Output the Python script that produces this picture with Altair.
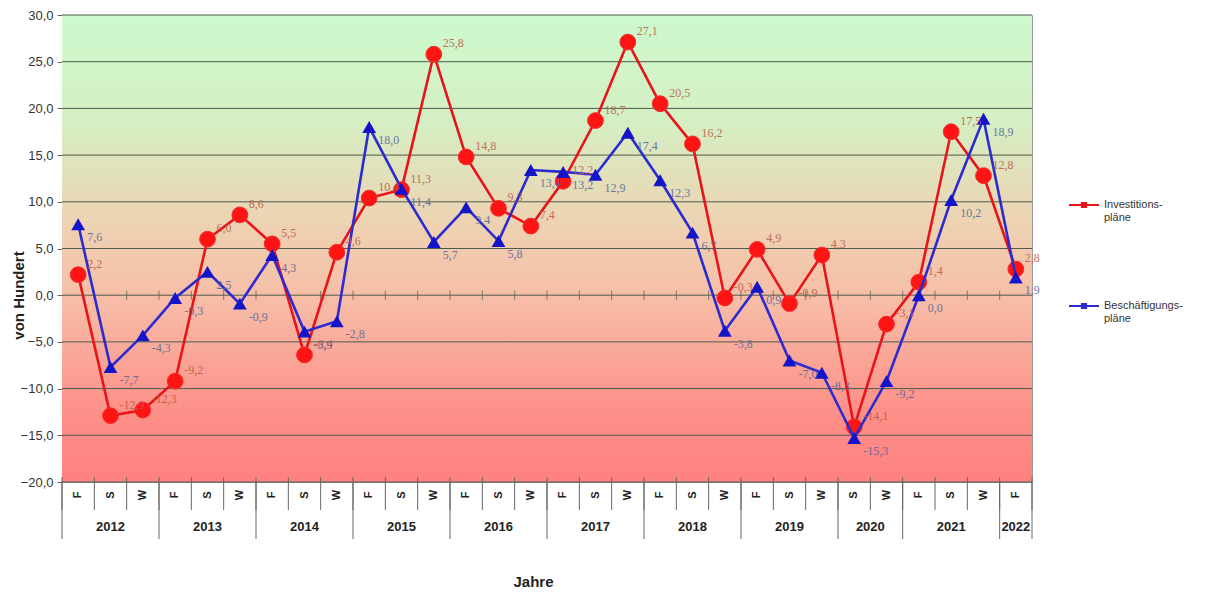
import altair as alt
import pandas as pd

# ---------------- data ----------------
years = (["2012"] * 3 + ["2013"] * 3 + ["2014"] * 3 + ["2015"] * 3 + ["2016"] * 3 +
         ["2017"] * 3 + ["2018"] * 3 + ["2019"] * 3 + ["2020"] * 2 + ["2021"] * 3 + ["2022"])
seasons = ["F", "S", "W"] * 8 + ["S", "W"] + ["F", "S", "W"] + ["F"]
invest = [2.2, -12.9, -12.3, -9.2, 6.0, 8.6, 5.5, -6.4, 4.6, 10.4, 11.3, 25.8,
          14.8, 9.3, 7.4, 12.2, 18.7, 27.1, 20.5, 16.2, -0.3, 4.9, -0.9, 4.3,
          -14.1, -3.1, 1.4, 17.5, 12.8, 2.8]
besch = [7.6, -7.7, -4.3, -0.3, 2.5, -0.9, 4.3, -3.9, -2.8, 18.0, 11.4, 5.7,
         9.4, 5.8, 13.4, 13.2, 12.9, 17.4, 12.3, 6.7, -3.8, 0.9, -7.0, -8.3,
         -15.3, -9.2, 0.0, 10.2, 18.9, 1.9]
series_names = ["Investitionspläne", "Beschäftigungspläne"]
yticks = [-20, -15, -10, -5, 0, 5, 10, 15, 20, 25, 30]

W, H = 970, 467
n = len(seasons)
idx = list(range(n))

df = pd.DataFrame({
    "i": idx * 2,
    "v": invest + besch,
    "series": [series_names[0]] * n + [series_names[1]] * n,
})
df["lab"] = df["v"].map(lambda v: f"{v:.1f}".replace(".", ","))

cats = pd.DataFrame({"i": idx, "season": seasons, "year": years})
year_centers = cats.groupby("year", as_index=False)["i"].mean()
bounds = pd.DataFrame({"b": [k - 0.5 for k in range(n + 1)]})
inner_bounds = pd.DataFrame({"b": [k - 0.5 for k in range(1, n)]})
yb = [-0.5] + [k - 0.5 for k in range(1, n) if years[k] != years[k - 1]] + [n - 0.5]
year_bounds = pd.DataFrame({"b": yb})
grid = pd.DataFrame({"t": yticks})

xscale = alt.Scale(domain=[-0.5, n - 0.5], nice=False, zero=False)
yscale = alt.Scale(domain=[-20, 30], nice=False, zero=False)

xaxis = alt.Axis(labels=False, ticks=False, domain=False, grid=False,
                 title="Jahre", titleFont="Liberation Sans", titleFontSize=15,
                 titleFontWeight="bold", titleColor="#222",
                 titleX=471, titleY=99, titleAnchor="middle", titleAlign="center",
                 titleBaseline="middle")
yaxis = alt.Axis(values=yticks, grid=False,
                 labelExpr="replace(format(datum.value, '.1f'), '.', ',')",
                 labelFont="Liberation Sans", labelFontSize=13, labelColor="#333",
                 tickSize=5, tickColor="#666", domainColor="#666", labelPadding=4,
                 title="von Hundert", titleFont="Liberation Sans", titleFontSize=15,
                 titleFontWeight="bold", titleColor="#222", titleAngle=270,
                 titleX=-44, titleY=280, titleAlign="center", titleBaseline="middle")

X = lambda f: alt.X(f, scale=xscale, axis=xaxis)
Y = lambda f: alt.Y(f, scale=yscale, axis=yaxis)

# ---------------- layers ----------------
bg = alt.Chart(pd.DataFrame({"a": [0]})).mark_rect(
    color=alt.LinearGradient(
        gradient="linear", x1=0, x2=0, y1=0, y2=1,
        stops=[
            alt.GradientStop(offset=0.0, color="#cdf9cd"),
            alt.GradientStop(offset=0.22, color="#d4f0c4"),
            alt.GradientStop(offset=0.45, color="#eed2b2"),
            alt.GradientStop(offset=0.62, color="#f7bba6"),
            alt.GradientStop(offset=0.85, color="#fd9088"),
            alt.GradientStop(offset=1.0, color="#ff8080"),
        ],
    )
).encode(x=alt.value(0), x2=alt.value(W), y=alt.value(0), y2=alt.value(H))

gridlines = alt.Chart(grid).mark_rule(color="#4d5a4a", strokeWidth=1).encode(
    y=Y("t:Q"), x=alt.value(0), x2=alt.value(W))

zero_ticks = alt.Chart(inner_bounds).mark_tick(
    orient="vertical", size=9, thickness=1, color="#4d5a4a").encode(
    x=X("b:Q"), y=alt.datum(0, scale=yscale))

color_scale = alt.Scale(domain=series_names, range=["#e8141a", "#2b2bd0"])
legend = alt.Legend(
    orient="none", legendX=1006, legendY=174, title=None,
    symbolType="M-1,0H1M-0.14,-0.14H0.14V0.14H-0.14Z",
    symbolSize=900, symbolStrokeWidth=2,
    labelFont="Liberation Sans", labelFontSize=11, labelColor="#333",
    labelBaseline="middle", rowPadding=67, labelLimit=200,
    labelExpr="datum.label == 'Investitionspläne' ? ['Investitions-', 'pläne'] : ['Beschäftigungs-', 'pläne']",
)

def line_layer(name):
    return alt.Chart(df).transform_filter(alt.datum.series == name).mark_line(
        strokeWidth=2.6).encode(
        x=X("i:Q"), y=Y("v:Q"),
        color=alt.Color("series:N", scale=color_scale, legend=legend))

red_line = line_layer(series_names[0])
blue_line = line_layer(series_names[1])

red_pts = alt.Chart(df).transform_filter(alt.datum.series == series_names[0]).mark_point(
    shape="circle", filled=True, size=250, color="#ff1414", opacity=1,
    stroke="#f03030", strokeWidth=1).encode(x=X("i:Q"), y=Y("v:Q"))
blue_pts = alt.Chart(df).transform_filter(alt.datum.series == series_names[1]).mark_point(
    shape="triangle-up", filled=True, size=190, color="#1414c8", opacity=1).encode(
    x=X("i:Q"), y=Y("v:Q"))

red_lab = alt.Chart(df).transform_filter(alt.datum.series == series_names[0]).mark_text(
    font="Liberation Serif", fontSize=12, color="#b95a45", opacity=0.85,
    align="left", dx=9, dy=-11).encode(x=X("i:Q"), y=Y("v:Q"), text="lab:N")
blue_lab = alt.Chart(df).transform_filter(alt.datum.series == series_names[1]).mark_text(
    font="Liberation Serif", fontSize=12, color="#55659a", opacity=0.85,
    align="left", dx=9, dy=13).encode(x=X("i:Q"), y=Y("v:Q"), text="lab:N")

season_sep = alt.Chart(bounds).mark_rule(color="#666", strokeWidth=1).encode(
    x=X("b:Q"), y=alt.value(H - 5), y2=alt.value(H + 28))
year_sep = alt.Chart(year_bounds).mark_rule(color="#666", strokeWidth=1).encode(
    x=X("b:Q"), y=alt.value(H), y2=alt.value(H + 57))
season_txt = alt.Chart(cats).mark_text(
    font="Liberation Sans", fontSize=11, fontWeight="bold", color="#222",
    angle=270, align="center", baseline="middle").encode(
    x=X("i:Q"), y=alt.value(H + 13), text="season:N")
year_txt = alt.Chart(year_centers).mark_text(
    font="Liberation Sans", fontSize=13, fontWeight="bold", color="#222",
    align="center", baseline="middle").encode(
    x=X("i:Q"), y=alt.value(H + 45), text="year:N")

chart = alt.layer(
    bg, gridlines, zero_ticks, season_sep, year_sep, season_txt, year_txt,
    red_line, red_pts, blue_line, blue_pts, red_lab, blue_lab
).properties(
    width=W, height=H,
    autosize=alt.AutoSizeParams(type="none"),
    padding={"left": 62, "top": 15, "right": 179, "bottom": 112},
    background="white",
).configure_view(stroke="#9a9a9a", strokeWidth=1)

chart.save("out.html", embed_options={"renderer": "svg", "actions": False})
